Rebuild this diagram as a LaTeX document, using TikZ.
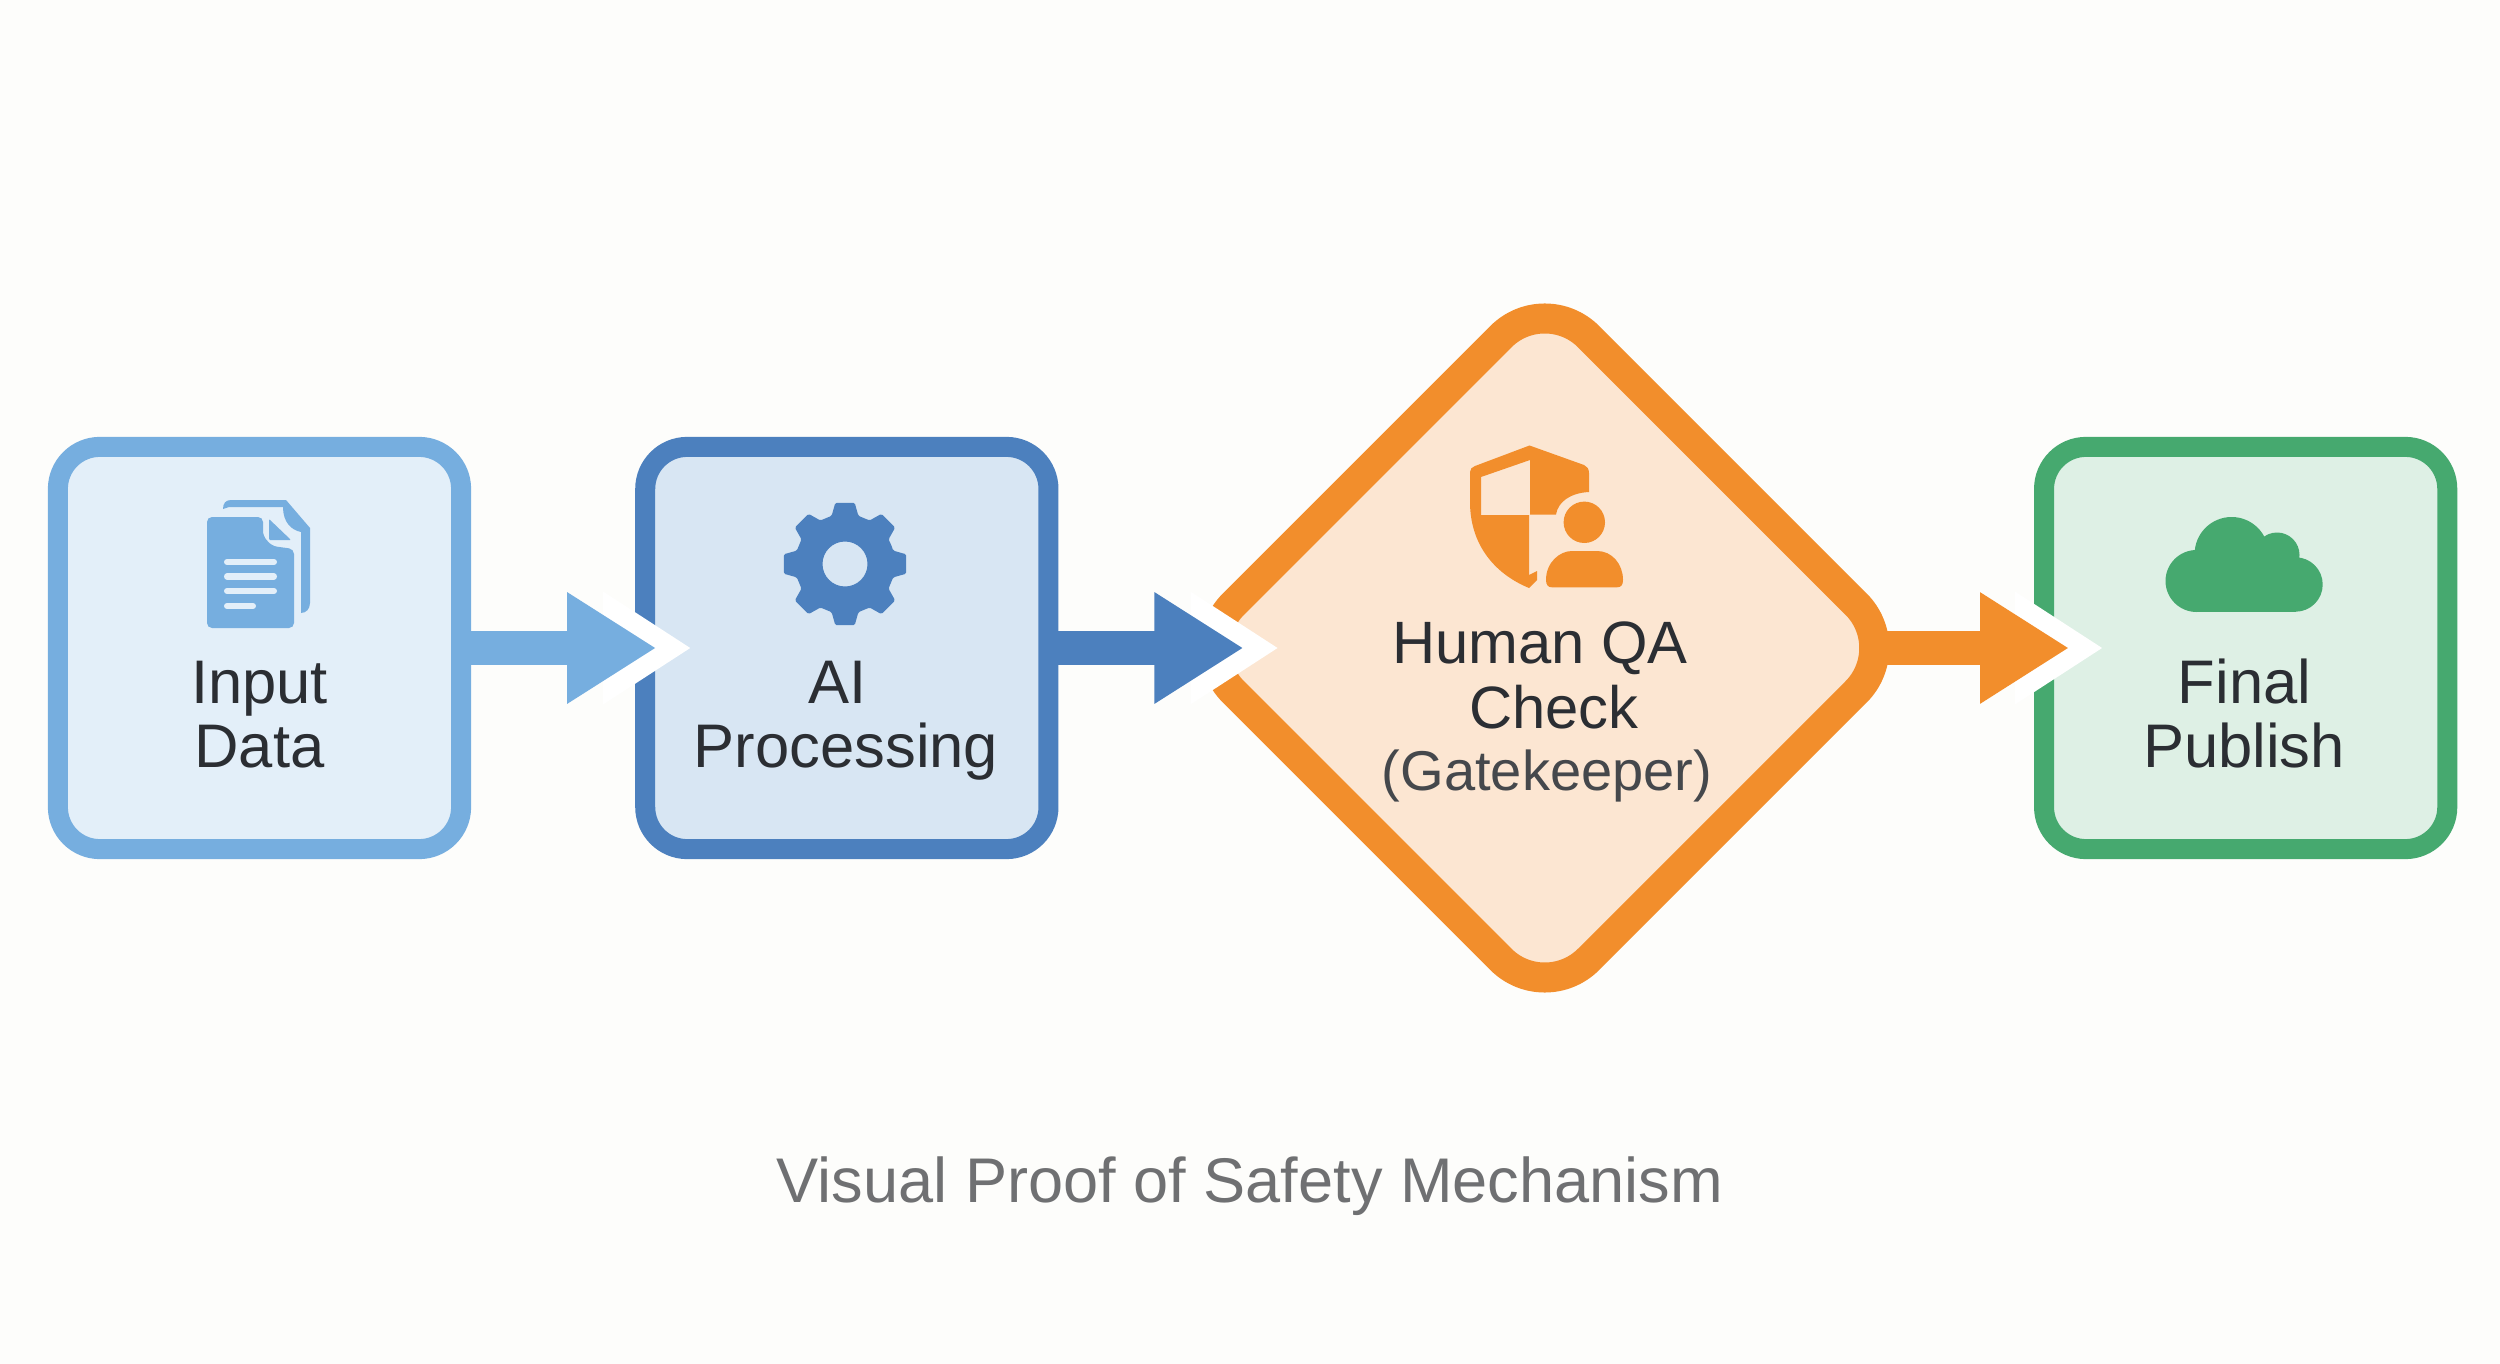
\documentclass[tikz,border=0pt]{standalone}
\usepackage{xcolor}
\usepackage{fontspec}
\setmainfont{Liberation Sans}
\usetikzlibrary{shapes,arrows.meta,positioning}

\definecolor{paper}{HTML}{FDFDFB}
\definecolor{inputblue}{HTML}{76AEDF}
\definecolor{inputfill}{HTML}{E3EFF9}
\definecolor{aiblue}{HTML}{4C80BE}
\definecolor{aifill}{HTML}{D8E6F3}
\definecolor{gateorange}{HTML}{F28E2C}
\definecolor{gatefill}{HTML}{FCE6D2}
\definecolor{publishgreen}{HTML}{46A96F}
\definecolor{publishfill}{HTML}{DEF0E5}
\definecolor{labelink}{HTML}{2B2E33}
\definecolor{noteink}{HTML}{45484C}
\definecolor{captionink}{HTML}{6F7072}

\begin{document}
\begin{tikzpicture}[
    x=0.01cm, y=-0.01cm,
    stagebox/.style={rectangle, line width=0.2cm, inner sep=0pt, outer sep=0pt, minimum width=4.03cm, minimum height=4.02cm, rounded corners=0.42cm},
    gatebox/.style={diamond, shape aspect=1, draw=gateorange, fill=gatefill, line width=0.3cm, inner sep=0pt, outer sep=0pt, minimum width=7.1cm, minimum height=7.1cm, rounded corners=0.62cm},
    steplabel/.style={anchor=base, inner sep=0pt, text=labelink, font=\fontsize{17.5pt}{18pt}\selectfont},
    gatelabel/.style={steplabel, font=\fontsize{17pt}{18pt}\selectfont},
    gatenote/.style={steplabel, text=noteink, font=\fontsize{15.95pt}{18pt}\selectfont},
    caption/.style={anchor=base, inner sep=0pt, text=captionink, font=\fontsize{17.95pt}{20pt}\selectfont},
    flowhalo/.style={draw=white, line width=1pt, -{Triangle[length=0.87cm,width=1.12cm]}, shorten >=-#1},
    flow/.style={line width=0.33cm, -{Triangle[length=0.89cm,width=1.05cm]}, shorten >=-#1}
]

\useasboundingbox (0,0) rectangle (2500,1364);
\fill[paper] (0,0) rectangle (2500,1364);

\node[stagebox, draw=inputblue, fill=inputfill] (input) at (259.5,648) {};
\node[stagebox, draw=aiblue, fill=aifill, right=1.84cm of input] (ai) {};
\node[gatebox, right=1.41cm of ai] (gate) {};
\node[stagebox, draw=publishgreen, fill=publishfill, right=1.44cm of gate] (publish) {};

\draw[flowhalo=0.45cm] (input) -- (ai);
\draw[flowhalo=0.88cm] (ai) -- (gate);
\draw[flowhalo=0.58cm] (gate) -- (publish);
\draw[flow=0.11cm, inputblue] (input) -- (ai);
\draw[flow=0.54cm, aiblue] (ai) -- (gate);
\draw[flow=0.25cm, gateorange, shorten <=-0.27cm] (gate) -- (publish);

\fill[inputblue] (223,509) .. controls (223,503) and (226,500) .. (231,500) -- (286,500) -- (310,528) -- (310,603) .. controls (310,609) and (306,613) .. (301,613) -- (301,532) .. controls (291,530) and (283,522) .. (283,507) -- (229,507) -- cycle;
\fill[inputblue, rounded corners=0.05cm] (207,517) -- (263,517) -- (263,536) -- (272,546) -- (294,549) -- (294,628) -- (207,628) -- cycle;
\fill[inputblue, rounded corners=0.01cm] (269,519) -- (291,540) -- (269,540) -- cycle;
\foreach \y/\x in {562/274, 576.5/274, 591/274, 606/253}
    \draw[inputfill, line width=0.06cm, line cap=round] (227,\y) -- (\x,\y);

\fill[aiblue, shift={(845,564)}, even odd rule, rounded corners=0.015cm] (-22.5:50) \foreach \a in {0,45,...,315}{ -- (\a-15.5:50) -- (\a-9:62) -- (\a+9:62) -- (\a+15.5:50) } -- cycle (0,0) circle (22.5);

\fill[gateorange] (1529.5,445.5) -- (1584,465) .. controls (1587,466) and (1589,469) .. (1589,473) -- (1589,492) .. controls (1570,493) and (1558,502) .. (1556,514.5) -- (1530,514.5) -- (1530,460) -- (1481,477) -- (1481,515) -- (1529,515) -- (1529,575) -- (1537,571) -- (1537,580) -- (1529,588) .. controls (1495,574) and (1470,545) .. (1470,502) -- (1470,472) .. controls (1470,469) and (1472,467) .. (1475,466) -- cycle;
\fill[gateorange] (1584.3,522.3) circle (20.7);
\fill[gateorange] (1546,580) .. controls (1546,562) and (1560,551) .. (1572,551) -- (1597,551) .. controls (1612,551) and (1623,564) .. (1623,580) .. controls (1623,585) and (1621,587.3) .. (1617,587.3) -- (1552,587.3) .. controls (1548,587.3) and (1546,585) .. (1546,580) -- cycle;

\fill[publishgreen] (2231.6,554) circle (37);
\fill[publishgreen] (2277,555) circle (22.5);
\fill[publishgreen] (2196.5,581) circle (31);
\fill[publishgreen] (2295.5,584.5) circle (27.2);
\fill[publishgreen] (2196.5,555) rectangle (2295.5,611.7);

\node[steplabel] (inputline) at (259.5,703) {Input};
\node[steplabel] (dataline) at (259.5,767) {Data};
\node[steplabel] (ailine) at (838,703) {AI};
\node[steplabel] (processingline) at (846,767) {Processing};
\node[gatelabel] (humanline) at (1540,663) {Human QA};
\node[gatelabel] (checkline) at (1554,728) {Check};
\node[gatenote] (keeperline) at (1547,790) {(Gatekeeper)};
\node[steplabel] (finalline) at (2244.5,703) {Final};
\node[steplabel] (publishline) at (2244,767) {Publish};

\node[caption] (footer) at (1250,1202) {Visual Proof of Safety Mechanism};

\end{tikzpicture}
\end{document}
